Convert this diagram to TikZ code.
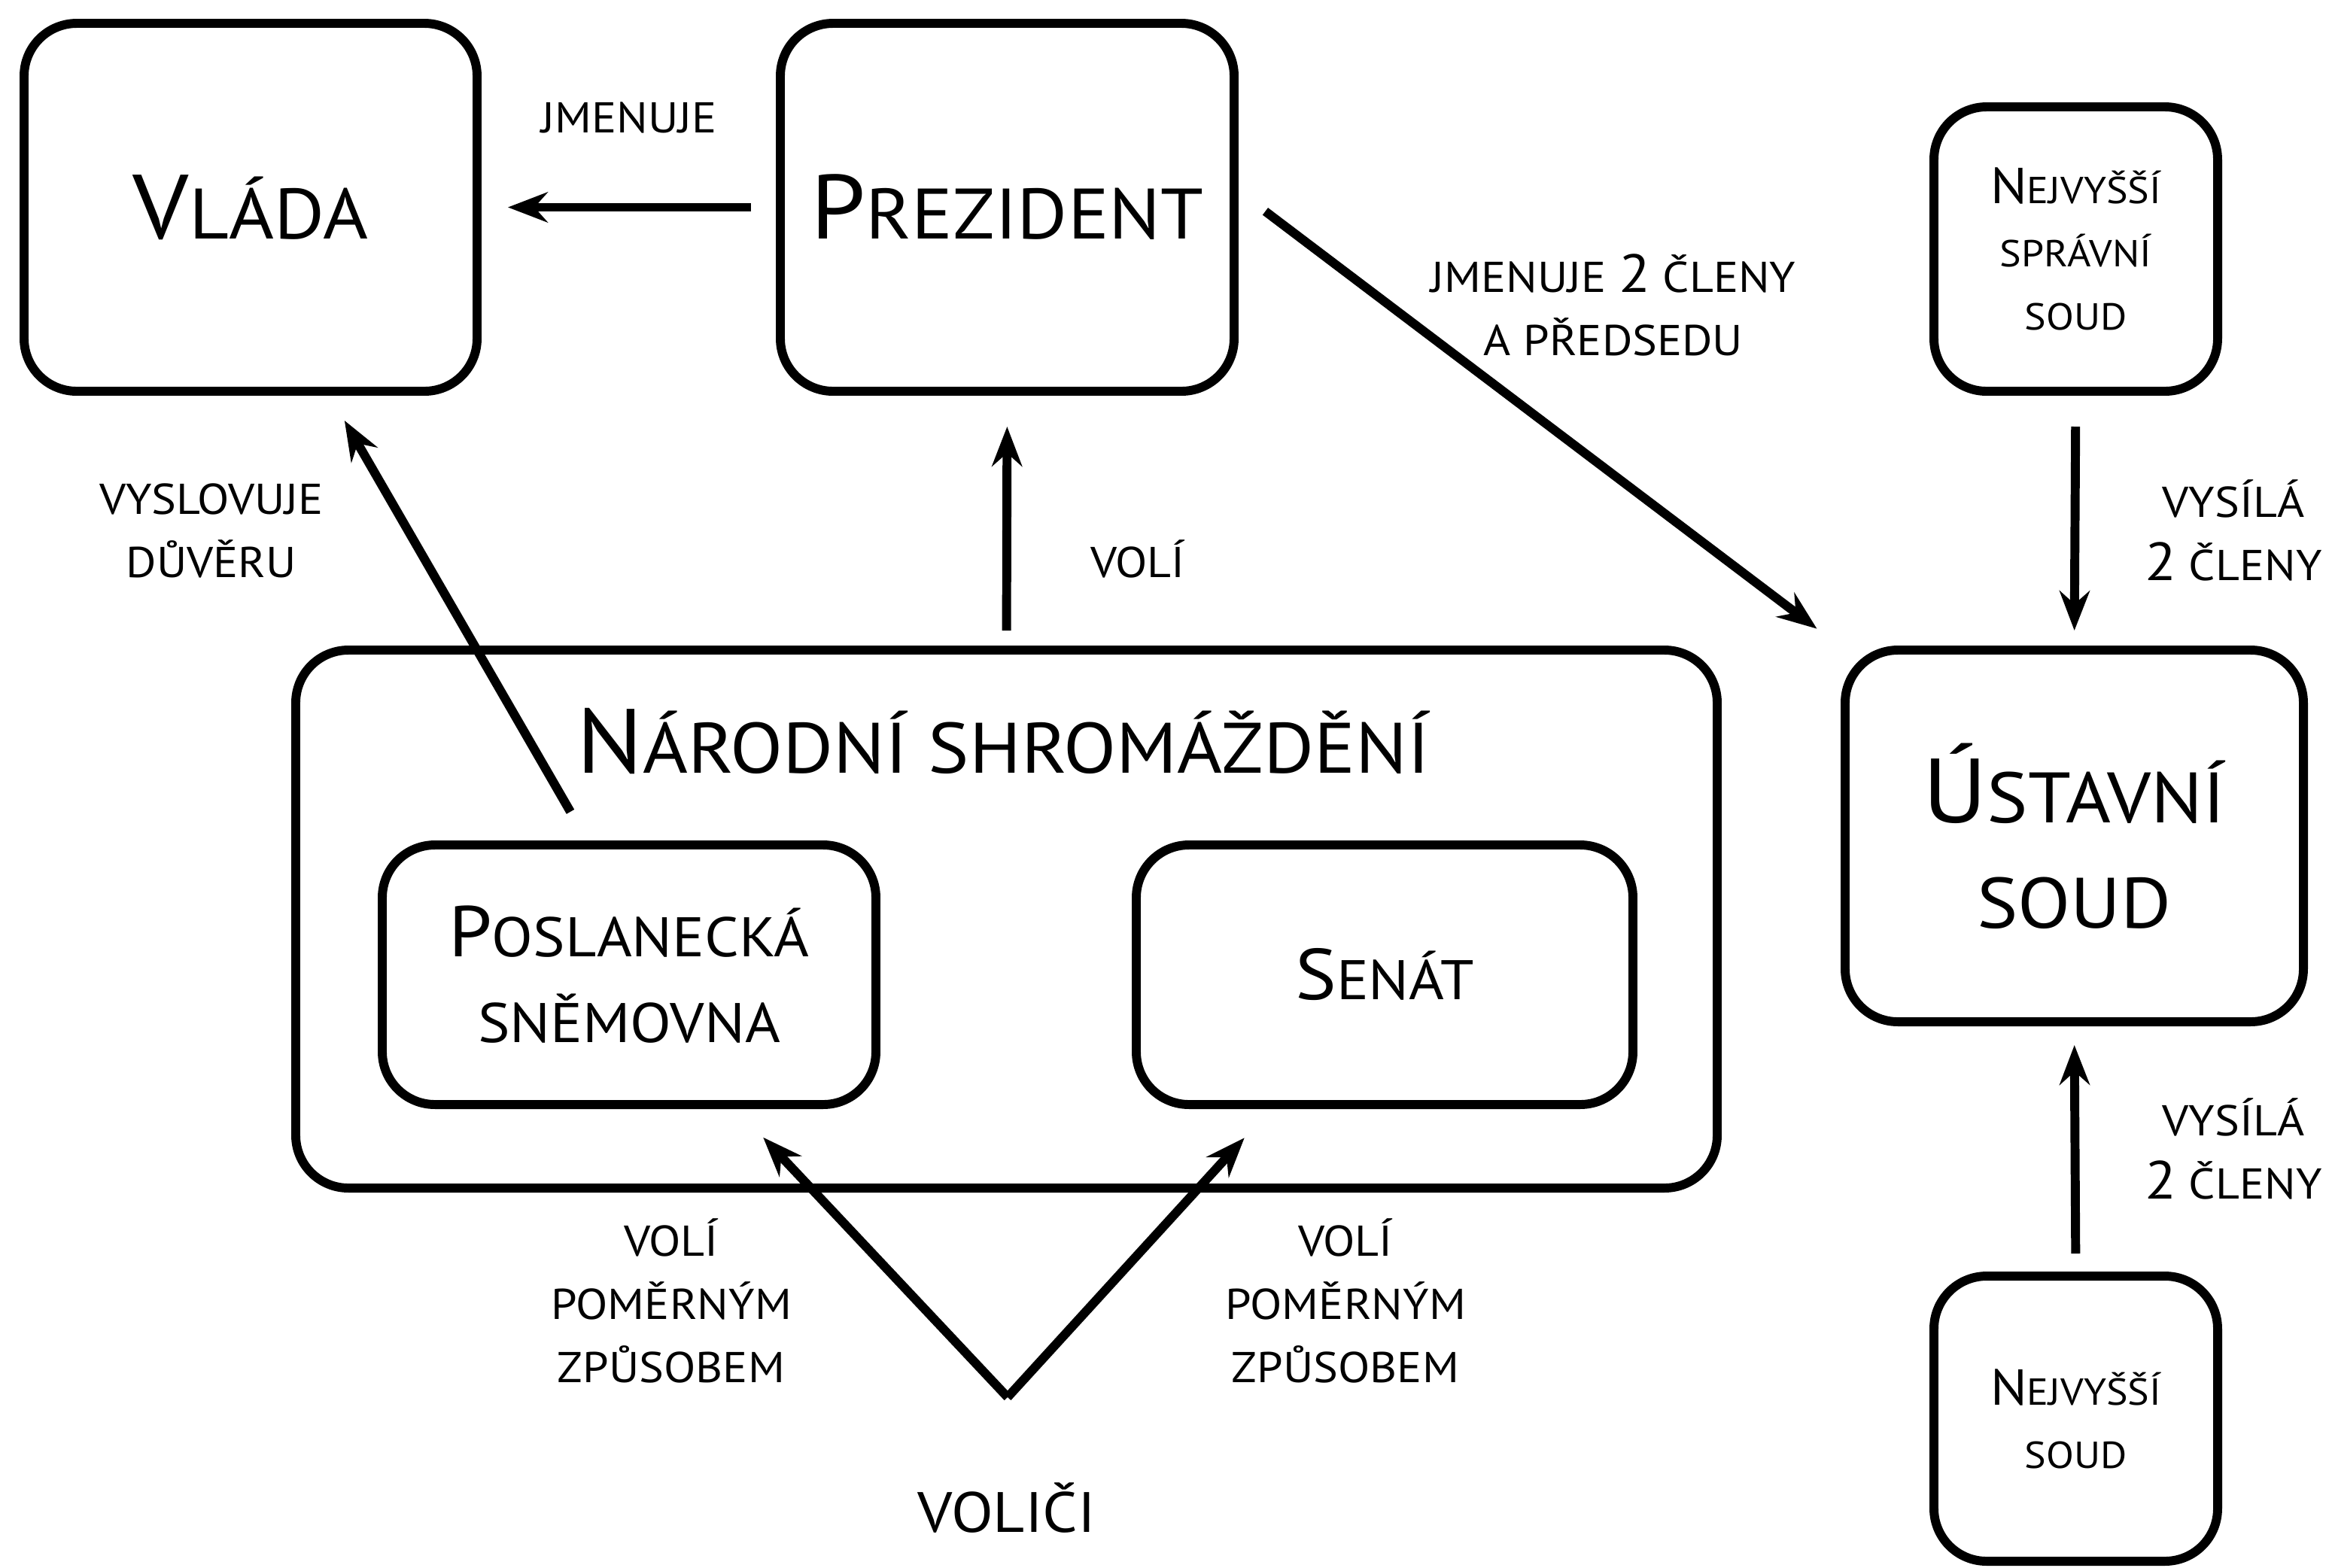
\documentclass[tikz,border=0pt]{standalone}
\usepackage{fontspec}
\setmainfont[FakeStretch=1.08]{PT Sans}
\usetikzlibrary{arrows.meta,calc}
\newcommand{\fs}[2]{\fontsize{#1}{#2}\selectfont}

\begin{document}
\begin{tikzpicture}[
  box/.style={draw,line width=3.4pt,rounded corners=0.7cm,outer sep=0pt,inner sep=0pt,align=center},
  arr/.style={line width=3.4pt,-{Stealth[length=15pt,width=11.4pt,inset=5pt]}},
  lbl/.style={align=center,font=\fs{16.3}{23.9}},
  bigtxt/.style={font=\fs{27}{39.8}},
  midtxt/.style={font=\fs{21.1}{32.4}},
  smalltxt/.style={font=\fs{14.2}{23.9}}
]

\useasboundingbox (0,0) rectangle (30.99,-20.83);

\node[box,bigtxt,minimum width=6.02cm,minimum height=4.89cm] (vlada) at (3.33,-2.755) {{\fs{34.5}{39.8}V}LÁDA};

\node[box,bigtxt,minimum width=6.03cm,minimum height=4.89cm] (prez) at (13.385,-2.755) {{\fs{34.5}{39.8}P}REZIDENT};

\node[box,smalltxt,minimum width=3.77cm,minimum height=3.78cm] (nss) at (27.585,-3.31) {{\fs{19.1}{23.9}N}EJVYŠŠÍ\\SPRÁVNÍ\\SOUD};

\node[box,minimum width=18.89cm,minimum height=7.15cm] (ns) at (13.375,-12.215) {};
\node[bigtxt] (nstitle) at (13.33,-9.85) {{\fs{34.5}{39.8}N}ÁRODNÍ SHROMÁŽDĚNÍ};

\node[box,midtxt,minimum width=6.56cm,minimum height=3.45cm] (posl) at (8.36,-12.955) {{\fs{27.2}{32.4}P}OSLANECKÁ\\SNĚMOVNA};

\node[box,midtxt,minimum width=6.6cm,minimum height=3.45cm] (senat) at (18.4,-12.955) {{\fs{27.2}{32.4}S}ENÁT};

\node[box,bigtxt,minimum width=6.09cm,minimum height=4.94cm] (ust) at (27.565,-11.11) {{\fs{34.5}{39.8}Ú}STAVNÍ\\SOUD};

\node[box,smalltxt,minimum width=3.77cm,minimum height=3.79cm] (nsoud) at (27.585,-18.855) {{\fs{19.1}{23.9}N}EJVYŠŠÍ\\SOUD};

\node[font=\fs{21.5}{25}] (volici) at (13.38,-20.04) {VOLIČI};
\coordinate (apex) at (13.39,-18.57);

\draw[arr,shorten <=0.39cm,shorten >=0.41cm] (prez.west) -- (vlada.east);
\node[lbl] (l1) at (8.36,-1.56) {JMENUJE};

\draw[arr,shorten <=0.26cm,shorten >=0.47cm] (ns.north) -- (prez.south);
\node[lbl] (l2) at (15.12,-7.43) {VOLÍ};

\draw[arr,shorten <=0.51cm,shorten >=0.45cm] ($(posl.north west)!0.42!(posl.north east)$) -- ($(vlada.south west)!0.67!(vlada.south east)$);
\node[lbl] (l3) at (2.81,-7.05) {VYSLOVUJE\\DŮVĚRU};

\draw[arr,shorten <=0.52cm,shorten >=0.47cm] ($(prez.east)+(0,0.26)$) -- (ust.north west);
\node[lbl] (l4) at (21.44,-4.05) {JMENUJE {\fs{20.3}{23.9}2} ČLENY\\A PŘEDSEDU};

\draw[arr,shorten <=0.47cm,shorten >=0.26cm] (nss.south) -- (ust.north);
\node[lbl] (l5) at (29.68,-7.05) {VYSÍLÁ\\{\fs{20.3}{23.9}2} ČLENY};

\draw[arr,shorten <=0.30cm,shorten >=0.31cm] (nsoud.north) -- (ust.south);
\node[lbl] (l6) at (29.68,-15.27) {VYSÍLÁ\\{\fs{20.3}{23.9}2} ČLENY};

\draw[arr,shorten >=0.6cm] (apex) -- ($(posl.south west)!0.709!(posl.south east)$);
\node[lbl] (l7) at (8.92,-17.29) {VOLÍ\\POMĚRNÝM\\ZPŮSOBEM};

\draw[arr,shorten >=0.6cm] (apex) -- ($(senat.south west)!0.279!(senat.south east)$);
\node[lbl] (l8) at (17.88,-17.29) {VOLÍ\\POMĚRNÝM\\ZPŮSOBEM};

\end{tikzpicture}
\end{document}
